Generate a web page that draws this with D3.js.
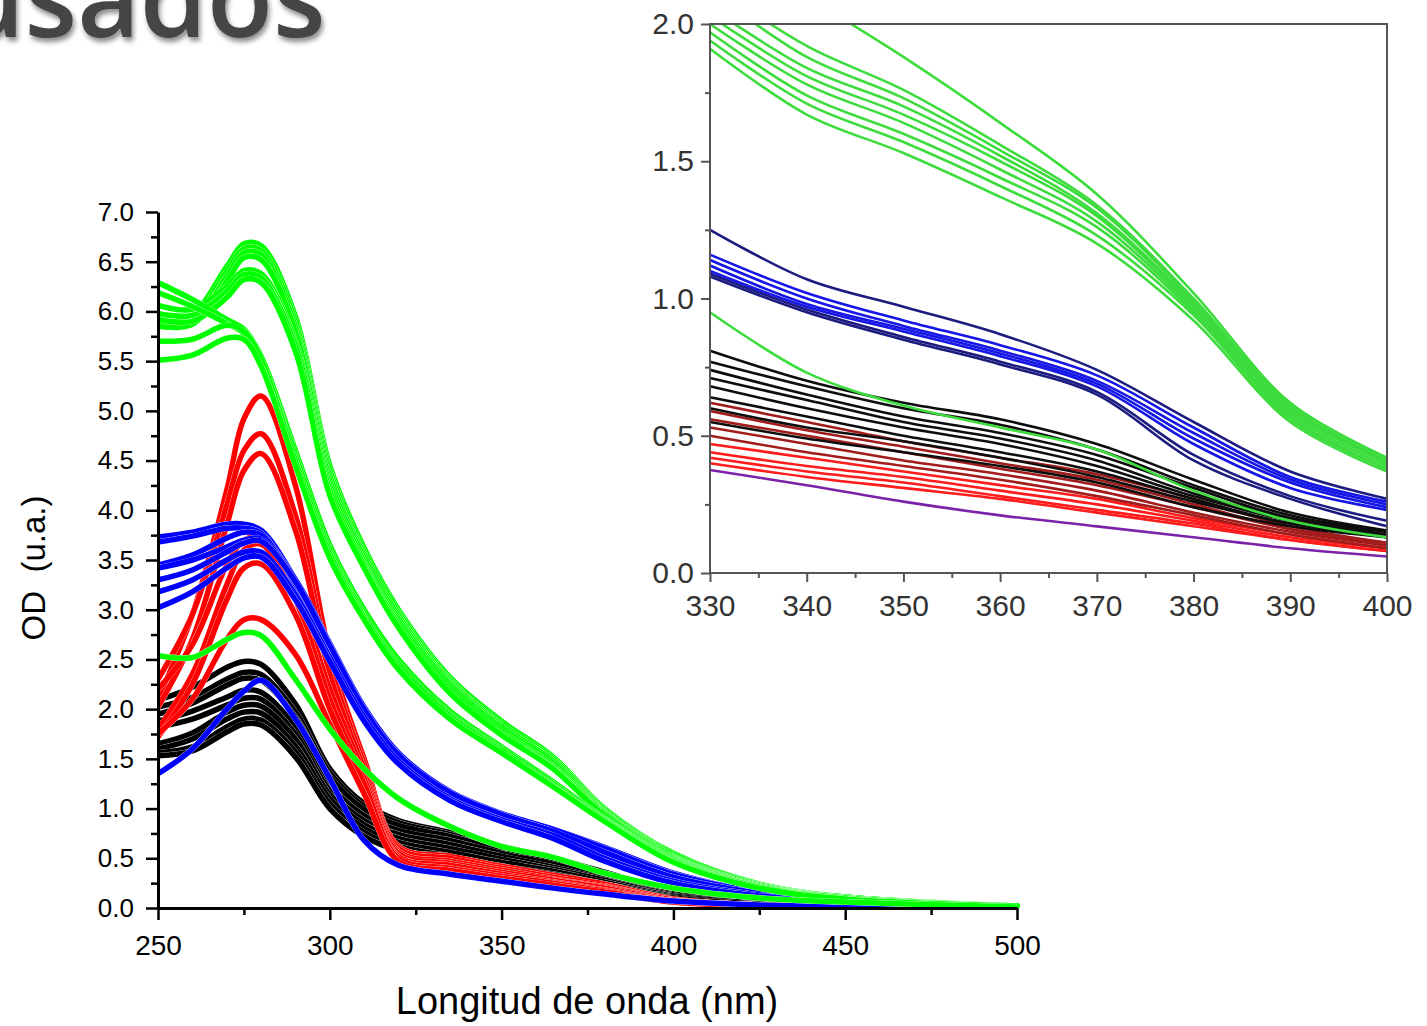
<!DOCTYPE html>
<html>
<head>
<meta charset="utf-8">
<script src="https://cdn.jsdelivr.net/npm/d3@7"></script>
<style>
  body { margin: 0; background: #fff; }
  svg { display: block; }
</style>
</head>
<body>
<svg id="chart" width="1427" height="1026"></svg>
<script>
// ---- main chart data (OD vs wavelength) ----
const wavelengths = [250, 260, 270, 275, 280, 290, 300, 310, 320, 335, 350, 365, 380, 400, 425, 450, 500];

const blackCurves = [
    [2.09, 2.22, 2.42, 2.48, 2.45, 2.05, 1.40, 1.05, 0.88, 0.76, 0.62, 0.50, 0.36, 0.16, 0.06, 0.03, 0.01],
    [2.02, 2.12, 2.30, 2.37, 2.35, 1.97, 1.36, 1.02, 0.86, 0.74, 0.60, 0.48, 0.34, 0.15, 0.06, 0.03, 0.01],
    [1.95, 2.06, 2.24, 2.31, 2.29, 1.92, 1.32, 0.99, 0.83, 0.72, 0.58, 0.46, 0.33, 0.15, 0.06, 0.03, 0.01],
    [1.88, 1.98, 2.12, 2.19, 2.17, 1.82, 1.24, 0.93, 0.78, 0.68, 0.55, 0.44, 0.31, 0.14, 0.05, 0.03, 0.01],
    [1.82, 1.90, 2.04, 2.11, 2.10, 1.75, 1.18, 0.88, 0.74, 0.64, 0.52, 0.41, 0.29, 0.13, 0.05, 0.02, 0.01],
    [1.65, 1.76, 1.97, 2.04, 2.03, 1.70, 1.14, 0.84, 0.70, 0.60, 0.49, 0.39, 0.28, 0.12, 0.05, 0.02, 0.01],
    [1.60, 1.70, 1.90, 1.97, 1.96, 1.63, 1.10, 0.80, 0.66, 0.56, 0.46, 0.37, 0.26, 0.12, 0.05, 0.02, 0.01],
    [1.56, 1.62, 1.82, 1.90, 1.89, 1.57, 1.05, 0.76, 0.62, 0.52, 0.42, 0.34, 0.24, 0.11, 0.04, 0.02, 0.01],
    [1.53, 1.58, 1.77, 1.85, 1.84, 1.52, 1.00, 0.72, 0.58, 0.50, 0.40, 0.32, 0.23, 0.10, 0.04, 0.02, 0.01]
];

const redCurves = [
    [2.10, 2.95, 4.20, 4.92, 5.15, 4.25, 2.55, 1.50, 0.62, 0.52, 0.42, 0.33, 0.24, 0.09, 0.03, 0.015, 0.01],
    [2.30, 2.95, 4.05, 4.60, 4.77, 3.95, 2.45, 1.45, 0.60, 0.50, 0.40, 0.31, 0.22, 0.08, 0.03, 0.015, 0.01],
    [2.02, 2.70, 3.85, 4.40, 4.57, 3.80, 2.35, 1.40, 0.57, 0.47, 0.38, 0.29, 0.21, 0.08, 0.03, 0.015, 0.01],
    [2.20, 2.65, 3.45, 3.70, 3.72, 3.20, 2.20, 1.35, 0.55, 0.45, 0.36, 0.28, 0.20, 0.07, 0.03, 0.015, 0.01],
    [1.80, 2.35, 3.25, 3.60, 3.66, 3.10, 2.10, 1.30, 0.52, 0.43, 0.34, 0.26, 0.18, 0.07, 0.03, 0.015, 0.01],
    [1.72, 2.25, 3.10, 3.42, 3.46, 2.95, 2.00, 1.25, 0.50, 0.40, 0.32, 0.25, 0.17, 0.06, 0.02, 0.01, 0.01],
    [1.75, 2.10, 2.70, 2.90, 2.90, 2.55, 1.85, 1.15, 0.47, 0.38, 0.30, 0.23, 0.16, 0.06, 0.02, 0.01, 0.01]
];

const blueCurves = [
    [3.73, 3.78, 3.86, 3.86, 3.80, 3.30, 2.62, 2.00, 1.55, 1.17, 0.94, 0.79, 0.61, 0.35, 0.16, 0.08, 0.02],
    [3.68, 3.74, 3.82, 3.82, 3.77, 3.25, 2.58, 1.96, 1.52, 1.14, 0.92, 0.77, 0.59, 0.33, 0.15, 0.07, 0.02],
    [3.45, 3.55, 3.72, 3.78, 3.75, 3.28, 2.62, 1.98, 1.53, 1.15, 0.93, 0.77, 0.58, 0.32, 0.15, 0.07, 0.02],
    [3.42, 3.50, 3.63, 3.70, 3.71, 3.30, 2.66, 2.02, 1.56, 1.17, 0.95, 0.79, 0.60, 0.34, 0.16, 0.08, 0.02],
    [3.30, 3.40, 3.58, 3.67, 3.69, 3.28, 2.64, 2.00, 1.54, 1.16, 0.94, 0.77, 0.56, 0.31, 0.15, 0.07, 0.02],
    [3.18, 3.30, 3.50, 3.58, 3.58, 3.15, 2.52, 1.92, 1.48, 1.10, 0.89, 0.73, 0.50, 0.27, 0.13, 0.06, 0.02],
    [3.02, 3.18, 3.42, 3.52, 3.53, 3.10, 2.48, 1.88, 1.45, 1.08, 0.87, 0.70, 0.47, 0.25, 0.12, 0.06, 0.02],
    [1.35, 1.60, 2.00, 2.18, 2.29, 1.90, 1.30, 0.68, 0.43, 0.34, 0.27, 0.20, 0.14, 0.07, 0.03, 0.015, 0.005]
];

const greenCurves = [
    [5.95, 5.98, 6.45, 6.68, 6.66, 5.95, 4.45, 3.62, 3.00, 2.32, 1.88, 1.52, 1.00, 0.55, 0.24, 0.11, 0.02],
    [5.91, 5.93, 6.40, 6.63, 6.61, 5.90, 4.40, 3.58, 2.97, 2.29, 1.85, 1.50, 0.99, 0.54, 0.24, 0.11, 0.02],
    [5.88, 5.90, 6.35, 6.59, 6.57, 5.85, 4.35, 3.55, 2.94, 2.27, 1.83, 1.48, 0.97, 0.53, 0.23, 0.11, 0.02],
    [5.85, 5.87, 6.30, 6.54, 6.52, 5.80, 4.30, 3.52, 2.91, 2.25, 1.81, 1.46, 0.96, 0.52, 0.23, 0.10, 0.02],
    [6.06, 6.02, 6.25, 6.41, 6.38, 5.70, 4.25, 3.48, 2.88, 2.22, 1.78, 1.43, 0.95, 0.51, 0.23, 0.10, 0.02],
    [5.98, 5.96, 6.20, 6.37, 6.34, 5.66, 4.20, 3.45, 2.85, 2.19, 1.76, 1.41, 0.94, 0.50, 0.22, 0.10, 0.02],
    [5.92, 5.90, 6.14, 6.32, 6.29, 5.60, 4.15, 3.42, 2.82, 2.16, 1.74, 1.40, 0.93, 0.50, 0.22, 0.10, 0.02],
    [6.29, 6.12, 5.92, 5.82, 5.55, 4.60, 3.65, 3.00, 2.50, 1.98, 1.62, 1.27, 0.90, 0.49, 0.21, 0.10, 0.02],
    [6.19, 6.05, 5.88, 5.78, 5.50, 4.55, 3.60, 2.96, 2.46, 1.95, 1.60, 1.25, 0.89, 0.48, 0.21, 0.10, 0.02],
    [5.70, 5.72, 5.86, 5.80, 5.52, 4.50, 3.56, 2.93, 2.43, 1.93, 1.58, 1.23, 0.88, 0.47, 0.21, 0.09, 0.02],
    [5.51, 5.56, 5.73, 5.72, 5.45, 4.45, 3.52, 2.90, 2.40, 1.90, 1.56, 1.22, 0.87, 0.46, 0.20, 0.09, 0.02],
    [2.54, 2.52, 2.70, 2.77, 2.74, 2.30, 1.80, 1.40, 1.10, 0.82, 0.62, 0.51, 0.35, 0.20, 0.10, 0.06, 0.01]
];

const xTicks = [250, 300, 350, 400, 450, 500];
const xMinorTicks = [275, 325, 375, 425, 475];
const yTicks = [0, 0.5, 1, 1.5, 2, 2.5, 3, 3.5, 4, 4.5, 5, 5.5, 6, 6.5, 7];
const yMinorTicks = [0.25, 0.75, 1.25, 1.75, 2.25, 2.75, 3.25, 3.75, 4.25, 4.75, 5.25, 5.75, 6.25, 6.75];

// ---- inset data (zoom 330-400 nm) ----
const insetWavelengths = [330, 340, 350, 360, 370, 380, 390, 400];

const insetGreen = [
    [2.32, 2.10, 1.88, 1.64, 1.38, 1.02, 0.62, 0.42],
    [2.15, 1.92, 1.76, 1.56, 1.34, 1.00, 0.61, 0.41],
    [2.12, 1.88, 1.73, 1.54, 1.33, 0.99, 0.60, 0.41],
    [2.06, 1.84, 1.70, 1.52, 1.31, 0.98, 0.60, 0.40],
    [2.03, 1.81, 1.67, 1.50, 1.30, 0.97, 0.59, 0.40],
    [2.00, 1.78, 1.64, 1.47, 1.28, 0.96, 0.58, 0.39],
    [1.97, 1.74, 1.60, 1.44, 1.26, 0.95, 0.57, 0.38],
    [1.94, 1.71, 1.57, 1.41, 1.23, 0.94, 0.56, 0.38],
    [1.91, 1.67, 1.53, 1.37, 1.20, 0.92, 0.55, 0.37],
    [0.95, 0.73, 0.61, 0.53, 0.45, 0.30, 0.19, 0.13]
];
const insetBlue = [
    [1.16, 1.02, 0.92, 0.83, 0.72, 0.53, 0.35, 0.26],
    [1.14, 1.00, 0.90, 0.81, 0.70, 0.51, 0.34, 0.25],
    [1.12, 0.98, 0.89, 0.80, 0.69, 0.49, 0.33, 0.24],
    [1.10, 0.97, 0.88, 0.79, 0.68, 0.47, 0.31, 0.23]
];
const insetNavy = [
    [1.25, 1.07, 0.97, 0.87, 0.74, 0.55, 0.37, 0.27],
    [1.09, 0.96, 0.86, 0.77, 0.66, 0.43, 0.28, 0.19],
    [1.08, 0.95, 0.85, 0.76, 0.65, 0.41, 0.27, 0.17]
];
const insetBlack = [
    [0.81, 0.70, 0.62, 0.56, 0.47, 0.34, 0.22, 0.155],
    [0.77, 0.68, 0.60, 0.54, 0.45, 0.32, 0.21, 0.15],
    [0.74, 0.65, 0.57, 0.51, 0.43, 0.31, 0.20, 0.15],
    [0.71, 0.63, 0.55, 0.49, 0.41, 0.29, 0.20, 0.14],
    [0.68, 0.60, 0.53, 0.47, 0.39, 0.28, 0.19, 0.14],
    [0.64, 0.57, 0.50, 0.44, 0.37, 0.27, 0.18, 0.14],
    [0.60, 0.53, 0.48, 0.42, 0.35, 0.26, 0.18, 0.13],
    [0.55, 0.49, 0.44, 0.39, 0.33, 0.24, 0.17, 0.13]
];
const insetDarkRed = [
    [0.62, 0.55, 0.48, 0.42, 0.36, 0.27, 0.17, 0.11],
    [0.59, 0.52, 0.46, 0.40, 0.34, 0.25, 0.16, 0.11],
    [0.56, 0.50, 0.44, 0.38, 0.32, 0.24, 0.16, 0.10],
    [0.53, 0.47, 0.41, 0.36, 0.30, 0.22, 0.15, 0.10],
    [0.50, 0.44, 0.39, 0.34, 0.28, 0.21, 0.14, 0.09]
];
const insetRed = [
    [0.47, 0.42, 0.37, 0.32, 0.27, 0.20, 0.14, 0.09],
    [0.44, 0.39, 0.35, 0.30, 0.25, 0.19, 0.13, 0.09],
    [0.42, 0.37, 0.33, 0.28, 0.23, 0.18, 0.12, 0.08],
    [0.40, 0.35, 0.31, 0.27, 0.22, 0.17, 0.12, 0.08]
];
const insetPurple = [
    [0.375, 0.32, 0.26, 0.21, 0.17, 0.13, 0.09, 0.06]
];

const insetXTicks = [330, 340, 350, 360, 370, 380, 390, 400];
const insetXMinor = [335, 345, 355, 365, 375, 385, 395];
const insetYTicks = [0, 0.5, 1, 1.5, 2];
const insetYMinor = [0.25, 0.75, 1.25, 1.75];

// ---- drawing ----
const svg = d3.select("#chart");
const defs = svg.append("defs");

const shadow = defs.append("filter").attr("id", "titleShadow")
    .attr("x", "-10%").attr("y", "-10%").attr("width", "130%").attr("height", "150%");
shadow.append("feDropShadow")
    .attr("dx", 2).attr("dy", 4).attr("stdDeviation", 2.5)
    .attr("flood-color", "#000").attr("flood-opacity", 0.45);

const soft = defs.append("filter").attr("id", "soft");
soft.append("feGaussianBlur").attr("stdDeviation", 0.6);

// partial slide title at top-left (cut by the top edge, as in the slide)
svg.append("text")
    .attr("x", -44)
    .attr("y", 37)
    .style("font-family", "'Open Sans', 'Noto Sans', sans-serif")
    .style("font-size", "108px")
    .style("font-weight", "600")
    .attr("fill", "#454545")
    .attr("filter", "url(#titleShadow)")
    .text("usados");

// main plot
const x = d3.scaleLinear().domain([250, 500]).range([158, 1017]);
const y = d3.scaleLinear().domain([0, 7]).range([908, 212]);

defs.append("clipPath").attr("id", "mainClip")
    .append("rect").attr("x", 158).attr("y", 150).attr("width", 870).attr("height", 758);

const mainLine = d3.line()
    .x((d, i) => x(wavelengths[i]))
    .y(d => y(d))
    .curve(d3.curveCatmullRom.alpha(0.5));

const mainG = svg.append("g").attr("clip-path", "url(#mainClip)");

function drawFamily(curves, color) {
    curves.forEach(values => {
        mainG.append("path")
            .attr("d", mainLine(values))
            .attr("fill", "none")
            .attr("stroke", "#fff")
            .attr("stroke-width", 5.9)
            .attr("stroke-linejoin", "round");
        mainG.append("path")
            .attr("d", mainLine(values))
            .attr("fill", "none")
            .attr("stroke", color)
            .attr("stroke-width", 5.5)
            .attr("stroke-linejoin", "round")
            .attr("stroke-linecap", "round");
    });
}

drawFamily(blackCurves, "#000000");
drawFamily(redCurves, "#ff0000");
drawFamily(blueCurves, "#0000ff");
drawFamily(greenCurves, "#00ff00");

// axes
const xAxis = svg.append("g")
    .attr("transform", "translate(0,908)")
    .call(d3.axisBottom(x).tickValues(xTicks).tickSize(12).tickSizeOuter(0).tickPadding(15).tickFormat(d3.format("d")));
svg.append("g")
    .attr("transform", "translate(0,908)")
    .call(d3.axisBottom(x).tickValues(xMinorTicks).tickSize(7).tickSizeOuter(0).tickFormat(""))
    .select(".domain").remove();

const yAxis = svg.append("g")
    .attr("transform", "translate(158,0)")
    .call(d3.axisLeft(y).tickValues(yTicks).tickSize(12).tickSizeOuter(0).tickPadding(12).tickFormat(d3.format(".1f")));
svg.append("g")
    .attr("transform", "translate(158,0)")
    .call(d3.axisLeft(y).tickValues(yMinorTicks).tickSize(7).tickSizeOuter(0).tickFormat(""))
    .select(".domain").remove();

svg.selectAll(".domain").attr("stroke", "#000").attr("stroke-width", 3);
svg.selectAll(".tick line").attr("stroke", "#000").attr("stroke-width", 2.5);

xAxis.selectAll("text")
    .style("font-family", "'Liberation Sans', Arial, sans-serif")
    .style("font-size", "28px")
    .attr("fill", "#000");
yAxis.selectAll("text")
    .style("font-family", "'Liberation Sans', Arial, sans-serif")
    .style("font-size", "26px")
    .attr("fill", "#000");

svg.append("text")
    .attr("x", 587)
    .attr("y", 1014)
    .attr("text-anchor", "middle")
    .style("font-family", "'Liberation Sans', Arial, sans-serif")
    .style("font-size", "38px")
    .text("Longitud de onda (nm)");

svg.append("text")
    .attr("transform", "translate(45,568) rotate(-90)")
    .attr("text-anchor", "middle")
    .style("font-family", "'Liberation Sans', Arial, sans-serif")
    .style("font-size", "33px")
    .style("white-space", "pre")
    .text("OD  (u.a.)");

// inset plot
const xi = d3.scaleLinear().domain([330, 400]).range([710, 1387]);
const yi = d3.scaleLinear().domain([0, 2]).range([573, 24]);

defs.append("clipPath").attr("id", "insetClip")
    .append("rect").attr("x", 710).attr("y", 24).attr("width", 677).attr("height", 549);

const insetLine = d3.line()
    .x((d, i) => xi(insetWavelengths[i]))
    .y(d => yi(d))
    .curve(d3.curveCatmullRom.alpha(0.5));

const insetG = svg.append("g").attr("clip-path", "url(#insetClip)")
    .append("g").attr("filter", "url(#soft)");

function drawInset(curves, color) {
    curves.forEach(values => {
        insetG.append("path")
            .attr("d", insetLine(values))
            .attr("fill", "none")
            .attr("stroke", color)
            .attr("stroke-width", 2.6);
    });
}

drawInset(insetPurple, "#7b22a8");
drawInset(insetRed, "#ff1a1a");
drawInset(insetDarkRed, "#a31c1c");
drawInset(insetBlack, "#111111");
drawInset(insetNavy, "#1c1c80");
drawInset(insetBlue, "#1414e6");
drawInset(insetGreen, "#3ddc3d");

// inset frame
svg.append("rect")
    .attr("x", 710).attr("y", 24).attr("width", 677).attr("height", 549)
    .attr("fill", "none").attr("stroke", "#555").attr("stroke-width", 2);

const ixAxis = svg.append("g")
    .attr("transform", "translate(0,573)")
    .call(d3.axisBottom(xi).tickValues(insetXTicks).tickSize(9).tickSizeOuter(0).tickPadding(13).tickFormat(d3.format("d")));
const ixMinor = svg.append("g")
    .attr("transform", "translate(0,573)")
    .call(d3.axisBottom(xi).tickValues(insetXMinor).tickSize(5).tickSizeOuter(0).tickFormat(""));
const iyAxis = svg.append("g")
    .attr("transform", "translate(710,0)")
    .call(d3.axisLeft(yi).tickValues(insetYTicks).tickSize(9).tickSizeOuter(0).tickPadding(7).tickFormat(d3.format(".1f")));
const iyMinor = svg.append("g")
    .attr("transform", "translate(710,0)")
    .call(d3.axisLeft(yi).tickValues(insetYMinor).tickSize(5).tickSizeOuter(0).tickFormat(""));

[ixAxis, ixMinor, iyAxis, iyMinor].forEach(g => {
    g.select(".domain").remove();
    g.selectAll(".tick line").attr("stroke", "#555").attr("stroke-width", 2);
    g.selectAll("text")
        .style("font-family", "'Liberation Sans', Arial, sans-serif")
        .style("font-size", "30px")
        .attr("fill", "#333");
});
</script>
</body>
</html>
